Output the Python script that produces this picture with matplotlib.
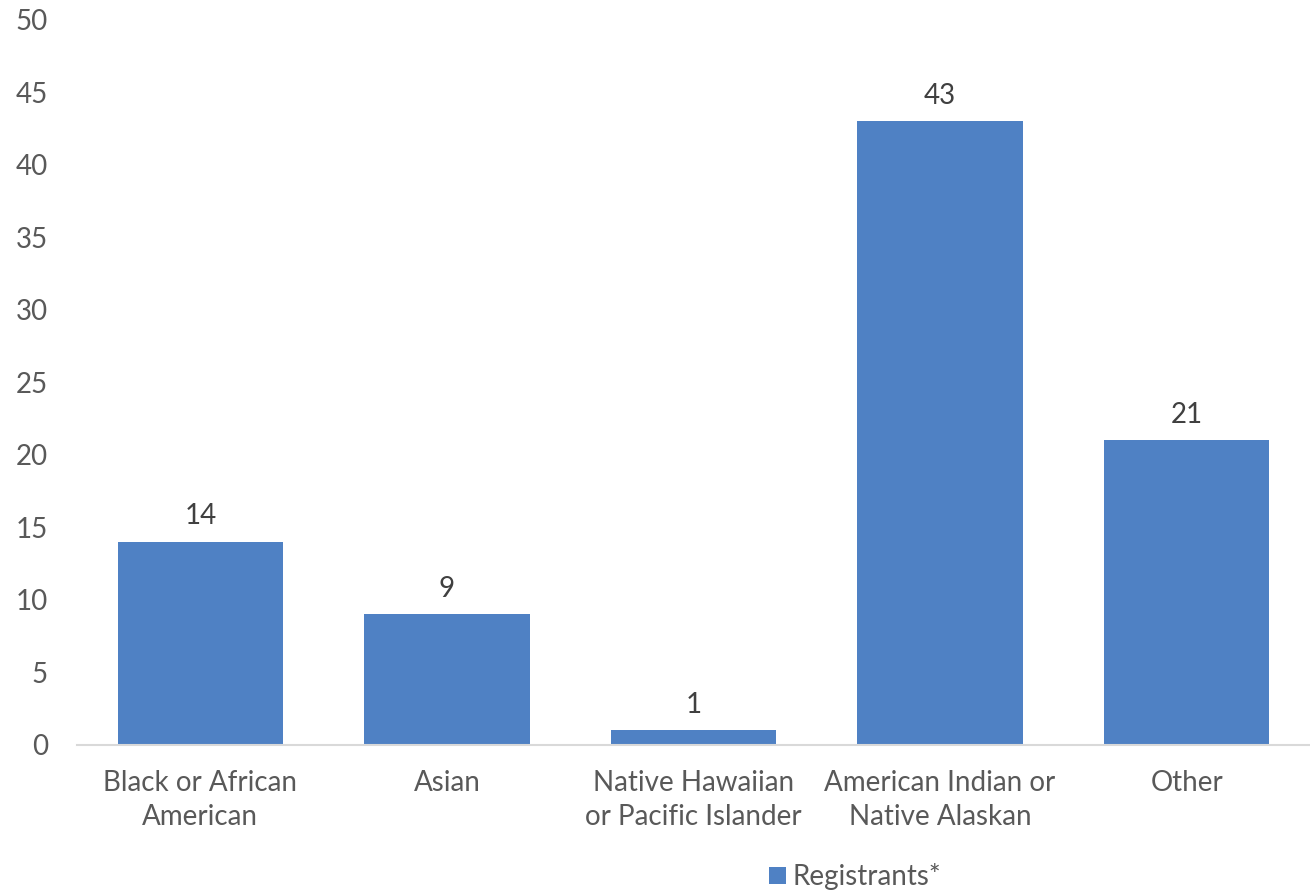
import matplotlib
matplotlib.use("Agg")
import matplotlib.pyplot as plt
import numpy as np

categories = ["Black or African\nAmerican", "Asian", "Native Hawaiian\nor Pacific Islander",
              "American Indian or\nNative Alaskan", "Other"]
registrants = [14, 9, 1, 43, 21]
yticks = [0, 5, 10, 15, 20, 25, 30, 35, 40, 45, 50]

plt.rcParams['font.family'] = ['Lato', 'DejaVu Sans']
txt = '#595959'

fig = plt.figure(figsize=(13.1, 8.91), dpi=100)
ax = fig.add_axes([0.0588, 0.1639, 0.9412, 0.8137])

x = np.arange(len(categories))
bars = ax.bar(x, registrants, width=0.67, color='#4F81C4', label='Registrants*', zorder=2)
for b, v in zip(bars, registrants):
    ax.annotate(str(v), (b.get_x() + b.get_width() / 2, v), xytext=(0, 9),
                textcoords='offset points', ha='center', va='bottom', fontsize=20, color='#404040')

ax.set_xlim(-0.5, len(categories) - 0.5)
ax.set_ylim(0, 50)
ax.set_yticks(yticks)
ax.set_xticks(x)
ax.set_xticklabels(categories, fontsize=20, color=txt, linespacing=1.4)
ax.tick_params(axis='y', labelsize=20, labelcolor=txt, length=0, pad=21)
ax.tick_params(axis='x', length=0, pad=18)

for s in ['top', 'right', 'left']:
    ax.spines[s].set_visible(False)
ax.spines['bottom'].set_color('#D9D9D9')
ax.spines['bottom'].set_linewidth(1.5)

fig.legend(handles=[bars], labels=['Registrants*'], loc='center', bbox_to_anchor=(0.653, 0.016),
           frameon=False, fontsize=20, labelcolor=txt, handlelength=0.6, handleheight=0.6,
           handletextpad=0.25)

fig.savefig('out.png', dpi=100)
